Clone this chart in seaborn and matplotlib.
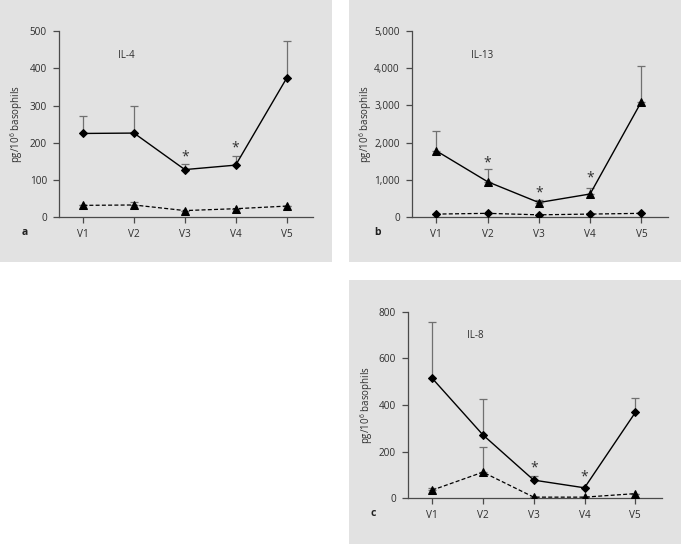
import matplotlib
matplotlib.use("Agg")
import matplotlib.pyplot as plt
import numpy as np
import pandas as pd
import seaborn as sns
from matplotlib.patches import Rectangle

visits = ["V1", "V2", "V3", "V4", "V5"]

# panel a: IL-4
il4_solid = [225, 226, 128, 140, 373]
il4_solid_err = [273, 298, 143, 165, 472]
il4_dash = [32, 33, 18, 23, 30]
il4_dash_err = [32, 40, 18, 23, 30]
il4_stars = {2: 163, 3: 185}

# panel b: IL-13
il13_solid = [1780, 950, 390, 620, 3100]
il13_solid_err = [2320, 1290, 470, 780, 4050]
il13_dash = [80, 100, 60, 80, 100]
il13_dash_err = [80, 100, 60, 80, 100]
il13_stars = {1: 1440, 2: 640, 3: 1040}

# panel c: IL-8
il8_solid = [515, 272, 78, 45, 368]
il8_solid_err = [758, 427, 95, 50, 428]
il8_dash = [35, 112, 5, 5, 20]
il8_dash_err = [45, 218, 5, 5, 20]
il8_stars = {2: 128, 3: 92}

sns.set_theme(style="white")
plt.rcParams["font.family"] = ["Open Sans", "DejaVu Sans"]
plt.rcParams["mathtext.default"] = "regular"

BG = "#e2e2e2"
AX = "#4a4a4a"
ERR = "#707070"
TXT = "#2e2e2e"

fig = plt.figure(figsize=(6.81, 5.44), dpi=100)
for rect in [(0, 0.518, 0.4875, 0.482), (0.5125, 0.518, 0.4875, 0.482), (0.5125, 0, 0.4875, 0.485)]:
    fig.patches.append(Rectangle(rect[:2], rect[2], rect[3], transform=fig.transFigure,
                                 facecolor=BG, edgecolor="none", zorder=-5))


def panel(pos, solid, solid_err, dash, dash_err, solid_m, dash_m, ymax, yticks, fmt,
          name, name_y, stars, letter, ylab_x):
    ax = fig.add_axes(pos)
    ax.set_facecolor("none")
    x = np.arange(len(visits))
    df = pd.DataFrame({"x": np.concatenate([x, x]),
                       "y": solid + dash,
                       "s": ["solid"] * 5 + ["dash"] * 5})
    ax.errorbar(x, solid, yerr=[np.zeros(5), np.array(solid_err) - np.array(solid)],
                fmt="none", ecolor=ERR, elinewidth=0.9, capsize=2.6, capthick=0.9, zorder=2)
    ax.errorbar(x, dash, yerr=[np.zeros(5), np.array(dash_err) - np.array(dash)],
                fmt="none", ecolor=ERR, elinewidth=0.9, capsize=2.6, capthick=0.9, zorder=2)
    sns.lineplot(data=df[df.s == "solid"], x="x", y="y", ax=ax, color="black",
                 marker=solid_m, markersize=4.2 if solid_m == "D" else 5.8,
                 markeredgecolor="black", lw=1.0, zorder=3)
    sns.lineplot(data=df[df.s == "dash"], x="x", y="y", ax=ax, color="black",
                 marker=dash_m, markersize=4.2 if dash_m == "D" else 5.8,
                 markeredgecolor="black", lw=0.9, linestyle=(0, (3.2, 1.8)), zorder=3)
    for i, v in stars.items():
        ax.text(i, v, "*", ha="center", va="center", fontsize=10, color=TXT)
    ax.text(0.68, name_y, name, fontsize=7, color=TXT, va="center")
    ax.set_xlim(-0.48, 4.52)
    ax.set_ylim(0, ymax)
    ax.set_xticks(x)
    ax.set_xticklabels(visits)
    ax.set_yticks(yticks)
    ax.set_yticklabels([fmt.format(t) for t in yticks])
    ax.set_xlabel("")
    ax.set_ylabel("pg/10$^{6}$ basophils", fontsize=7, color=TXT)
    ax.yaxis.set_label_coords(ylab_x, 0.5)
    for s in ["top", "right"]:
        ax.spines[s].set_visible(False)
    for s in ["left", "bottom"]:
        ax.spines[s].set_color(AX)
        ax.spines[s].set_linewidth(0.9)
    ax.tick_params(axis="both", direction="out", length=4.5, width=0.9, color=AX,
                   labelsize=7.2, labelcolor=TXT, pad=4, left=True, bottom=True)
    ax.text(-0.145, -0.083, letter, transform=ax.transAxes, fontsize=7.5, fontweight="bold",
            color="#222222", va="center")
    return ax


panel([0.0862, 0.6006, 0.3734, 0.3424], il4_solid, il4_solid_err, il4_dash, il4_dash_err,
      "D", "^", 500, [0, 100, 200, 300, 400, 500], "{:d}", "IL-4", 433, il4_stars, "a", -0.133)
panel([0.6045, 0.601, 0.3765, 0.342], il13_solid, il13_solid_err, il13_dash, il13_dash_err,
      "^", "D", 5000, [0, 1000, 2000, 3000, 4000, 5000], "{:,d}", "IL-13", 4330, il13_stars, "b", -0.148)
panel([0.5987, 0.084, 0.373, 0.343], il8_solid, il8_solid_err, il8_dash, il8_dash_err,
      "D", "^", 800, [0, 200, 400, 600, 800], "{:d}", "IL-8", 696, il8_stars, "c", -0.129)

fig.savefig("out.png", dpi=100)
